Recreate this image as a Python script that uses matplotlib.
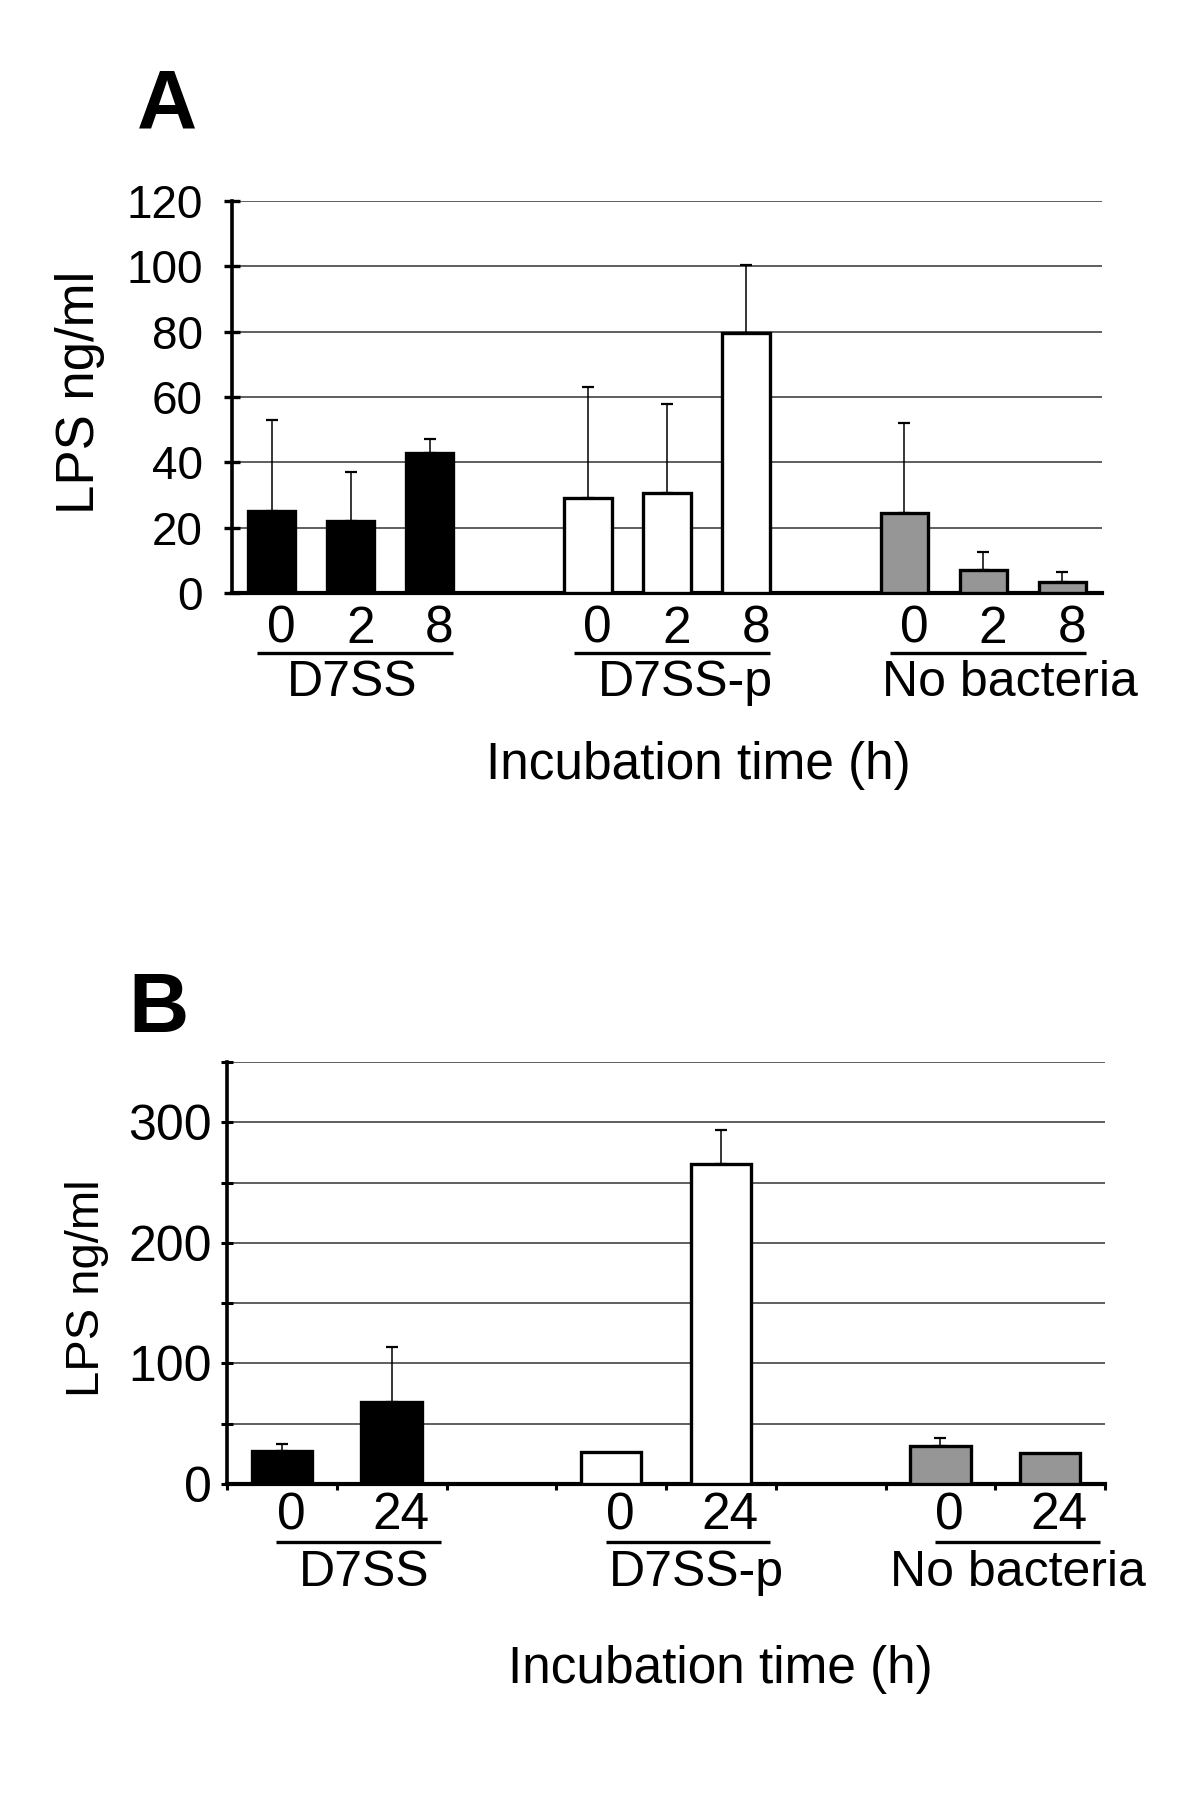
import numpy as np
import matplotlib.pyplot as plt
from matplotlib.transforms import blended_transform_factory

plt.rcParams['font.family'] = ['Liberation Sans', 'DejaVu Sans']

# data
groups = ['D7SS', 'D7SS-p', 'No bacteria']
colors = ['black', 'white', '#969696']

times_a = ['0', '2', '8']
mean_a = [[25, 22, 43], [29, 30.5, 79.5], [24.5, 7, 3.5]]
err_a = [[28, 15, 4], [34, 27.5, 21], [27.5, 5.5, 3]]

times_b = ['0', '24']
mean_b = [[27, 68], [26.5, 265], [31.5, 25.5]]
err_b = [[6, 46], [0, 28.5], [6.5, 0]]

PT = 0.72  # points per pixel at dpi 100

fig = plt.figure(figsize=(12, 18.04), dpi=100)


def draw(ax, times, means, errs, width, ymax):
    n = len(times)
    step = n + 1
    for g in range(len(groups)):
        pos = np.arange(n) + g * step
        ax.bar(pos, means[g], width=width, color=colors[g], edgecolor='black',
               linewidth=2.4, zorder=3)
        e = np.array(errs[g], dtype=float)
        m = e > 0
        ax.errorbar(pos[m], np.array(means[g])[m], yerr=[np.zeros(m.sum()), e[m]],
                    fmt='none', ecolor='black', elinewidth=1.1, capsize=4,
                    capthick=1.6, zorder=4)
    ax.set_xlim(-0.5, len(groups) * step - 1.5)
    ax.set_ylim(0, ymax)
    ax.set_axisbelow(True)
    ax.yaxis.grid(True, color='#333333', linewidth=1.1)
    for s in ['top', 'right']:
        ax.spines[s].set_visible(False)
    ax.spines['left'].set_linewidth(2.6)
    ax.spines['bottom'].set_linewidth(3.0)
    return step


def labels(ax, times, step, dx, dy_num, line_y, line_ext, grp_dx, dy_grp, fs):
    n = len(times)
    tr = blended_transform_factory(ax.transData, ax.transAxes)
    for g, name in enumerate(groups):
        pos = np.arange(n) + g * step
        for p, t in zip(pos, times):
            ax.annotate(t, xy=(p, 0), xycoords=tr, xytext=(dx, dy_num),
                        textcoords='offset points', ha='center', va='center',
                        fontsize=fs)
        ax.plot([pos[0] + line_ext[0], pos[-1] + line_ext[1]], [line_y, line_y],
                transform=tr, color='black', linewidth=2.4, clip_on=False,
                solid_capstyle='butt')
        ax.annotate(name, xy=(pos.mean(), 0), xycoords=tr,
                    xytext=(grp_dx[g], dy_grp), textcoords='offset points',
                    ha='center', va='center', fontsize=fs - 1)


# panel A
axA = fig.add_axes([232 / 1200, 1 - 593 / 1804, 870 / 1200, 392 / 1804])
stA = draw(axA, times_a, mean_a, err_a, 0.6, 120)
axA.set_yticks(np.arange(0, 121, 20))
axA.tick_params(axis='y', direction='inout', length=12, width=2.4,
                labelsize=33, pad=15)
axA.set_xticks([])
labels(axA, times_a, stA, 7, -26 + 0, -0.153, (-0.18, 0.30),
       [1, 13, 19], -65, 37)
fig.text(698 / 1200, 1 - 765 / 1804, 'Incubation time (h)', ha='center',
         va='center', fontsize=37)
fig.text(80 / 1200, 1 - 392 / 1804, 'LPS ng/ml', rotation=90, ha='center',
         va='center', fontsize=38)
fig.text(167 / 1200, 1 - 128 / 1804, 'A', ha='center', va='baseline',
         fontsize=60, fontweight='bold')

# panel B
axB = fig.add_axes([227 / 1200, 1 - 1484 / 1804, 878 / 1200, 422 / 1804])
stB = draw(axB, times_b, mean_b, err_b, 0.55, 350)
axB.set_yticks([0, 100, 200, 300])
axB.set_yticks([50, 150, 250, 350], minor=True)
axB.set_xticks(np.arange(-0.5, 8, 1.0), minor=True)
axB.set_xticks([])
axB.yaxis.grid(True, which='minor', color='#333333', linewidth=1.1)
axB.tick_params(axis='y', which='both', direction='inout', length=8, width=2.2,
                labelsize=36, pad=7)
axB.tick_params(axis='x', which='minor', direction='out', length=4.5, width=2.2)
labels(axB, times_b, stB, 6.5, -23, -0.1374, (-0.05, 0.45),
       [19.5, 22, 16.5], -64, 37)
fig.text(720 / 1200, 1 - 1670 / 1804, 'Incubation time (h)', ha='center',
         va='center', fontsize=37)
fig.text(87 / 1200, 1 - 1288 / 1804, 'LPS ng/ml', rotation=90, ha='center',
         va='center', fontsize=34)
fig.text(159 / 1200, 1 - 1032 / 1804, 'B', ha='center', va='baseline',
         fontsize=60, fontweight='bold')

fig.savefig('out.png', dpi=100)
